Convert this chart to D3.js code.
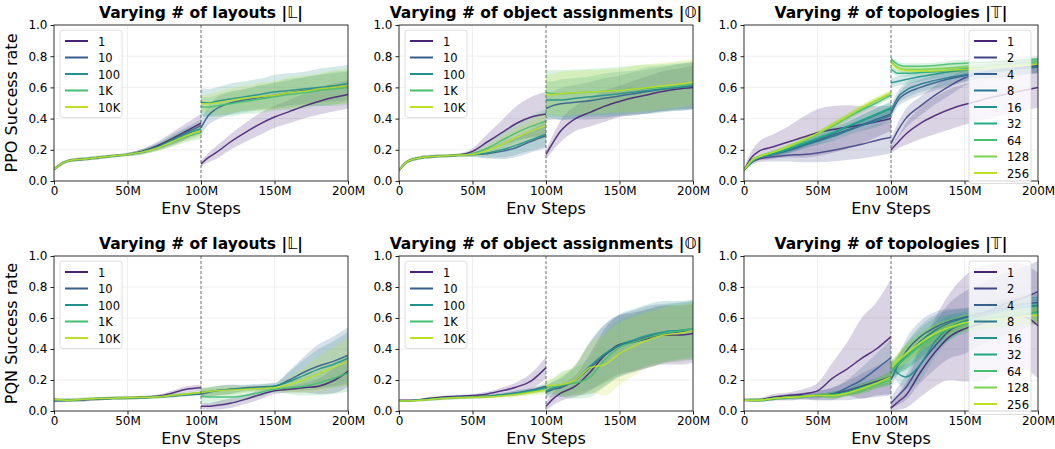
<!DOCTYPE html>
<html>
<head>
<meta charset="utf-8">
<script src="https://cdn.jsdelivr.net/npm/d3@7"></script>
<style>
  body { margin: 0; background: #fff; }
  text { font-family: "DejaVu Sans", sans-serif; fill: #000; }
</style>
</head>
<body>
<svg id="chart" width="1055" height="449"></svg>
<script>
// x grid in millions of env steps, before and after the switch at 100M
var stepsPre = [0, 5, 10, 20, 30, 40, 50, 60, 70, 80, 90, 100];
var stepsPost = [100, 105, 110, 120, 130, 140, 150, 160, 170, 180, 190, 200];
var sizeLabels = ["1", "10", "100", "1K", "10K"];
var topoLabels = ["1", "2", "4", "8", "16", "32", "64", "128", "256"];
var yTicks = [0, 0.2, 0.4, 0.6, 0.8, 1.0];
var xTicks = [0, 50, 100, 150, 200];
var xTickLabels = ["0", "50M", "100M", "150M", "200M"];

// --- PPO, layouts
var ppoLayoutPre = [
  [0.075,0.11,0.13,0.14,0.15,0.16,0.17,0.19,0.225,0.27,0.32,0.37],
  [0.075,0.11,0.13,0.14,0.15,0.16,0.17,0.19,0.22,0.265,0.31,0.355],
  [0.075,0.11,0.13,0.14,0.15,0.16,0.17,0.185,0.215,0.255,0.30,0.335],
  [0.075,0.11,0.13,0.14,0.15,0.16,0.17,0.185,0.21,0.25,0.285,0.31],
  [0.075,0.11,0.13,0.14,0.15,0.16,0.17,0.185,0.21,0.25,0.29,0.32]
];
var ppoLayoutPreSd = [
  [0.01,0.01,0.01,0.01,0.01,0.01,0.01,0.015,0.025,0.04,0.05,0.06],
  [0.01,0.01,0.01,0.01,0.01,0.01,0.01,0.015,0.02,0.03,0.035,0.04],
  [0.01,0.01,0.01,0.01,0.01,0.01,0.01,0.015,0.02,0.03,0.035,0.04],
  [0.01,0.01,0.01,0.01,0.01,0.01,0.01,0.015,0.02,0.03,0.035,0.04],
  [0.01,0.01,0.01,0.01,0.01,0.01,0.01,0.015,0.02,0.03,0.035,0.04]
];
var ppoLayoutPost = [
  [0.11,0.15,0.18,0.25,0.31,0.365,0.41,0.445,0.48,0.51,0.535,0.555],
  [0.34,0.42,0.46,0.50,0.52,0.535,0.55,0.565,0.58,0.59,0.60,0.61],
  [0.505,0.50,0.51,0.525,0.54,0.555,0.57,0.58,0.59,0.60,0.61,0.625],
  [0.475,0.475,0.48,0.495,0.51,0.525,0.54,0.555,0.565,0.58,0.59,0.60],
  [0.495,0.495,0.50,0.515,0.53,0.54,0.55,0.565,0.575,0.59,0.60,0.61]
];
var ppoLayoutPostSd = [
  [0.02,0.03,0.04,0.05,0.06,0.07,0.07,0.075,0.08,0.085,0.09,0.09],
  [0.05,0.06,0.07,0.07,0.07,0.075,0.08,0.08,0.085,0.09,0.09,0.09],
  [0.09,0.09,0.09,0.10,0.10,0.10,0.11,0.11,0.11,0.12,0.12,0.12],
  [0.06,0.06,0.07,0.08,0.08,0.09,0.09,0.10,0.10,0.10,0.11,0.11],
  [0.05,0.06,0.07,0.08,0.08,0.09,0.09,0.10,0.10,0.10,0.11,0.11]
];

// --- PPO, object assignments
var ppoObjectPre = [
  [0.07,0.12,0.14,0.155,0.16,0.165,0.19,0.25,0.31,0.37,0.41,0.43],
  [0.07,0.12,0.14,0.155,0.16,0.165,0.17,0.175,0.19,0.215,0.255,0.29],
  [0.07,0.12,0.14,0.155,0.16,0.165,0.17,0.18,0.20,0.23,0.265,0.30],
  [0.07,0.12,0.14,0.155,0.16,0.165,0.175,0.21,0.26,0.31,0.35,0.385],
  [0.07,0.12,0.14,0.155,0.16,0.165,0.17,0.195,0.235,0.28,0.32,0.355]
];
var ppoObjectPreSd = [
  [0.01,0.01,0.01,0.01,0.01,0.01,0.02,0.05,0.08,0.11,0.13,0.14],
  [0.01,0.01,0.01,0.01,0.01,0.01,0.015,0.03,0.05,0.06,0.07,0.08],
  [0.01,0.01,0.01,0.01,0.01,0.01,0.015,0.03,0.05,0.06,0.07,0.08],
  [0.01,0.01,0.01,0.01,0.01,0.01,0.015,0.03,0.05,0.06,0.07,0.08],
  [0.01,0.01,0.01,0.01,0.01,0.01,0.015,0.03,0.05,0.06,0.07,0.08]
];
var ppoObjectPost = [
  [0.17,0.25,0.32,0.40,0.44,0.48,0.51,0.535,0.555,0.575,0.59,0.60],
  [0.465,0.485,0.495,0.505,0.515,0.53,0.545,0.56,0.575,0.59,0.60,0.61],
  [0.52,0.52,0.52,0.53,0.54,0.55,0.56,0.57,0.58,0.59,0.60,0.61],
  [0.565,0.56,0.56,0.565,0.57,0.575,0.58,0.59,0.595,0.60,0.61,0.62],
  [0.555,0.555,0.56,0.565,0.57,0.575,0.58,0.59,0.60,0.61,0.62,0.635]
];
var ppoObjectPostSd = [
  [0.03,0.05,0.07,0.08,0.09,0.10,0.10,0.11,0.12,0.13,0.13,0.14],
  [0.08,0.09,0.10,0.11,0.12,0.13,0.13,0.14,0.14,0.14,0.15,0.15],
  [0.12,0.12,0.13,0.13,0.13,0.14,0.14,0.14,0.15,0.15,0.15,0.15],
  [0.15,0.15,0.15,0.15,0.15,0.15,0.15,0.15,0.15,0.15,0.15,0.15],
  [0.13,0.13,0.14,0.14,0.14,0.14,0.14,0.15,0.15,0.15,0.15,0.15]
];

// --- PPO, topologies
var ppoTopoPre = [
  [0.07,0.15,0.19,0.22,0.25,0.28,0.31,0.33,0.345,0.36,0.38,0.40],
  [0.07,0.12,0.14,0.155,0.165,0.17,0.18,0.195,0.215,0.235,0.26,0.28],
  [0.07,0.12,0.15,0.175,0.20,0.23,0.26,0.295,0.325,0.36,0.395,0.43],
  [0.07,0.12,0.15,0.17,0.195,0.225,0.255,0.285,0.32,0.355,0.385,0.42],
  [0.07,0.12,0.15,0.175,0.205,0.235,0.27,0.305,0.345,0.385,0.425,0.465],
  [0.07,0.12,0.15,0.175,0.205,0.24,0.275,0.31,0.35,0.39,0.43,0.47],
  [0.07,0.13,0.155,0.185,0.215,0.255,0.30,0.35,0.405,0.455,0.50,0.55],
  [0.07,0.13,0.155,0.185,0.22,0.26,0.305,0.355,0.41,0.465,0.515,0.56],
  [0.07,0.13,0.155,0.185,0.22,0.26,0.305,0.36,0.415,0.47,0.52,0.565]
];
var ppoTopoPreSd = [
  [0.01,0.04,0.06,0.08,0.10,0.13,0.15,0.15,0.14,0.12,0.10,0.08],
  [0.005,0.02,0.02,0.03,0.04,0.05,0.06,0.07,0.08,0.09,0.10,0.10],
  [0.005,0.01,0.01,0.015,0.02,0.02,0.025,0.03,0.03,0.035,0.04,0.04],
  [0.005,0.01,0.01,0.015,0.02,0.02,0.025,0.03,0.03,0.035,0.04,0.04],
  [0.005,0.01,0.01,0.015,0.02,0.02,0.025,0.03,0.03,0.035,0.04,0.04],
  [0.005,0.01,0.01,0.015,0.02,0.02,0.025,0.03,0.03,0.035,0.04,0.04],
  [0.005,0.01,0.01,0.01,0.015,0.015,0.015,0.02,0.02,0.02,0.02,0.02],
  [0.005,0.01,0.01,0.01,0.015,0.015,0.015,0.02,0.02,0.02,0.02,0.02],
  [0.005,0.01,0.01,0.01,0.015,0.015,0.015,0.02,0.02,0.02,0.02,0.02]
];
var ppoTopoPost = [
  [0.20,0.25,0.30,0.37,0.42,0.46,0.49,0.515,0.54,0.56,0.58,0.60],
  [0.24,0.33,0.40,0.48,0.55,0.61,0.66,0.69,0.71,0.72,0.73,0.74],
  [0.43,0.52,0.56,0.60,0.63,0.655,0.675,0.69,0.70,0.71,0.72,0.73],
  [0.45,0.54,0.58,0.62,0.645,0.665,0.68,0.695,0.705,0.715,0.725,0.735],
  [0.63,0.64,0.65,0.67,0.685,0.70,0.71,0.72,0.73,0.74,0.75,0.76],
  [0.72,0.69,0.69,0.695,0.70,0.71,0.72,0.73,0.74,0.75,0.755,0.76],
  [0.785,0.745,0.735,0.735,0.74,0.75,0.755,0.76,0.765,0.77,0.775,0.78],
  [0.77,0.725,0.715,0.715,0.72,0.725,0.73,0.735,0.74,0.745,0.75,0.76],
  [0.76,0.72,0.71,0.705,0.705,0.71,0.715,0.72,0.73,0.735,0.74,0.75]
];
var ppoTopoPostSd = [
  [0.02,0.04,0.07,0.10,0.12,0.13,0.13,0.13,0.13,0.13,0.13,0.13],
  [0.03,0.05,0.06,0.06,0.06,0.06,0.05,0.05,0.05,0.05,0.05,0.05],
  [0.03,0.04,0.05,0.05,0.05,0.05,0.04,0.04,0.04,0.04,0.04,0.04],
  [0.03,0.04,0.05,0.05,0.05,0.05,0.04,0.04,0.04,0.04,0.04,0.04],
  [0.03,0.03,0.03,0.03,0.03,0.03,0.03,0.03,0.03,0.03,0.03,0.03],
  [0.02,0.02,0.02,0.02,0.02,0.02,0.02,0.02,0.02,0.02,0.02,0.02],
  [0.02,0.02,0.02,0.02,0.02,0.02,0.02,0.02,0.02,0.02,0.02,0.02],
  [0.02,0.02,0.02,0.02,0.02,0.02,0.02,0.02,0.02,0.02,0.02,0.02],
  [0.02,0.02,0.02,0.02,0.02,0.02,0.02,0.02,0.02,0.02,0.02,0.02]
];

// --- PQN, layouts
var pqnLayoutPre = [
  [0.075,0.072,0.07,0.072,0.078,0.082,0.085,0.088,0.095,0.115,0.14,0.15],
  [0.065,0.066,0.068,0.072,0.078,0.082,0.085,0.087,0.09,0.097,0.105,0.11],
  [0.07,0.07,0.07,0.075,0.08,0.083,0.085,0.087,0.09,0.097,0.105,0.115],
  [0.072,0.07,0.07,0.075,0.08,0.082,0.085,0.087,0.09,0.10,0.11,0.12],
  [0.075,0.072,0.07,0.075,0.08,0.083,0.086,0.088,0.09,0.10,0.11,0.12]
];
var pqnLayoutPreSd = [
  [0.01,0.01,0.01,0.01,0.01,0.01,0.01,0.01,0.01,0.015,0.02,0.02],
  [0.01,0.01,0.01,0.01,0.01,0.01,0.01,0.01,0.01,0.01,0.01,0.01],
  [0.01,0.01,0.01,0.01,0.01,0.01,0.01,0.01,0.01,0.01,0.01,0.01],
  [0.01,0.01,0.01,0.01,0.01,0.01,0.01,0.01,0.01,0.01,0.01,0.01],
  [0.01,0.01,0.01,0.01,0.01,0.01,0.01,0.01,0.01,0.01,0.01,0.01]
];
var pqnLayoutPost = [
  [0.03,0.03,0.035,0.05,0.075,0.105,0.13,0.14,0.15,0.16,0.195,0.255],
  [0.11,0.12,0.13,0.14,0.15,0.155,0.16,0.20,0.25,0.29,0.32,0.36],
  [0.12,0.125,0.13,0.14,0.145,0.15,0.16,0.19,0.23,0.27,0.30,0.34],
  [0.10,0.09,0.09,0.09,0.10,0.12,0.14,0.15,0.16,0.18,0.21,0.245],
  [0.12,0.125,0.13,0.135,0.14,0.145,0.15,0.17,0.20,0.24,0.28,0.32]
];
var pqnLayoutPostSd = [
  [0.02,0.02,0.025,0.03,0.03,0.03,0.02,0.02,0.03,0.05,0.08,0.10],
  [0.03,0.03,0.03,0.03,0.02,0.02,0.02,0.06,0.10,0.14,0.16,0.18],
  [0.03,0.03,0.03,0.03,0.02,0.02,0.02,0.06,0.10,0.13,0.15,0.17],
  [0.04,0.05,0.05,0.04,0.03,0.03,0.02,0.04,0.06,0.08,0.10,0.12],
  [0.03,0.03,0.03,0.03,0.02,0.02,0.02,0.05,0.08,0.11,0.13,0.15]
];

// --- PQN, object assignments
var pqnObjectPre = [
  [0.07,0.07,0.07,0.08,0.09,0.095,0.10,0.11,0.13,0.155,0.195,0.28],
  [0.065,0.065,0.068,0.075,0.082,0.088,0.09,0.095,0.105,0.118,0.135,0.16],
  [0.065,0.065,0.068,0.075,0.082,0.088,0.09,0.095,0.105,0.115,0.13,0.15],
  [0.065,0.065,0.068,0.075,0.082,0.087,0.09,0.093,0.10,0.11,0.125,0.14],
  [0.065,0.065,0.066,0.073,0.08,0.085,0.088,0.09,0.097,0.107,0.12,0.135]
];
var pqnObjectPreSd = [
  [0.005,0.005,0.005,0.01,0.01,0.01,0.01,0.015,0.02,0.03,0.05,0.07],
  [0.005,0.005,0.005,0.01,0.01,0.01,0.01,0.01,0.01,0.015,0.015,0.02],
  [0.005,0.005,0.005,0.01,0.01,0.01,0.01,0.01,0.01,0.015,0.015,0.02],
  [0.005,0.005,0.005,0.01,0.01,0.01,0.01,0.01,0.01,0.015,0.015,0.02],
  [0.005,0.005,0.005,0.01,0.01,0.01,0.01,0.01,0.01,0.015,0.02,0.03]
];
var pqnObjectPost = [
  [0.03,0.08,0.115,0.16,0.25,0.36,0.43,0.445,0.47,0.49,0.49,0.50],
  [0.12,0.14,0.15,0.20,0.28,0.36,0.42,0.45,0.48,0.50,0.51,0.52],
  [0.13,0.15,0.16,0.20,0.29,0.37,0.425,0.46,0.49,0.51,0.52,0.53],
  [0.15,0.16,0.17,0.18,0.22,0.33,0.41,0.445,0.475,0.50,0.515,0.53],
  [0.16,0.165,0.17,0.20,0.28,0.30,0.37,0.42,0.46,0.49,0.50,0.52]
];
var pqnObjectPostSd = [
  [0.03,0.04,0.05,0.07,0.12,0.17,0.19,0.19,0.19,0.19,0.19,0.19],
  [0.04,0.05,0.06,0.10,0.17,0.20,0.20,0.20,0.20,0.19,0.19,0.19],
  [0.04,0.04,0.06,0.09,0.15,0.19,0.20,0.20,0.20,0.20,0.19,0.19],
  [0.04,0.05,0.08,0.10,0.13,0.17,0.18,0.18,0.18,0.18,0.18,0.18],
  [0.04,0.05,0.07,0.10,0.16,0.20,0.20,0.19,0.18,0.18,0.18,0.18]
];

// --- PQN, topologies
var pqnTopoPre = [
  [0.075,0.072,0.072,0.09,0.10,0.11,0.13,0.21,0.27,0.34,0.40,0.48],
  [0.07,0.07,0.07,0.08,0.09,0.095,0.10,0.11,0.13,0.16,0.19,0.22],
  [0.07,0.07,0.07,0.08,0.09,0.095,0.10,0.11,0.15,0.20,0.27,0.345],
  [0.07,0.07,0.07,0.08,0.09,0.095,0.10,0.105,0.12,0.15,0.18,0.22],
  [0.07,0.07,0.07,0.08,0.088,0.093,0.10,0.105,0.12,0.15,0.18,0.215],
  [0.07,0.07,0.07,0.08,0.088,0.093,0.10,0.105,0.12,0.15,0.18,0.21],
  [0.07,0.07,0.07,0.08,0.088,0.093,0.10,0.10,0.115,0.14,0.17,0.205],
  [0.07,0.07,0.07,0.08,0.088,0.093,0.10,0.10,0.115,0.14,0.175,0.21],
  [0.07,0.07,0.07,0.08,0.088,0.093,0.10,0.10,0.115,0.145,0.18,0.22]
];
var pqnTopoPreSd = [
  [0.005,0.005,0.01,0.02,0.02,0.03,0.05,0.10,0.17,0.26,0.30,0.37],
  [0.005,0.01,0.01,0.01,0.02,0.02,0.03,0.04,0.06,0.08,0.10,0.12],
  [0.005,0.01,0.01,0.01,0.02,0.02,0.03,0.04,0.05,0.08,0.10,0.12],
  [0.005,0.01,0.01,0.01,0.01,0.01,0.01,0.02,0.02,0.03,0.03,0.04],
  [0.005,0.01,0.01,0.01,0.01,0.01,0.01,0.02,0.02,0.03,0.03,0.04],
  [0.005,0.01,0.01,0.01,0.01,0.01,0.01,0.02,0.02,0.03,0.03,0.04],
  [0.005,0.01,0.01,0.01,0.01,0.01,0.01,0.02,0.02,0.03,0.03,0.04],
  [0.005,0.01,0.01,0.01,0.01,0.01,0.01,0.02,0.02,0.03,0.03,0.04],
  [0.005,0.01,0.01,0.01,0.01,0.01,0.01,0.02,0.02,0.03,0.03,0.04]
];
var pqnTopoPost = [
  [0.02,0.06,0.10,0.25,0.38,0.48,0.53,0.56,0.59,0.61,0.61,0.55],
  [0.05,0.10,0.15,0.30,0.42,0.52,0.57,0.62,0.66,0.70,0.73,0.77],
  [0.20,0.30,0.38,0.48,0.54,0.58,0.605,0.63,0.65,0.67,0.69,0.70],
  [0.25,0.30,0.35,0.45,0.52,0.57,0.60,0.62,0.64,0.66,0.67,0.68],
  [0.30,0.24,0.22,0.30,0.45,0.54,0.58,0.61,0.63,0.65,0.67,0.68],
  [0.27,0.31,0.35,0.43,0.50,0.54,0.57,0.59,0.60,0.61,0.62,0.64],
  [0.25,0.30,0.34,0.42,0.49,0.53,0.56,0.58,0.59,0.60,0.61,0.63],
  [0.27,0.32,0.36,0.44,0.50,0.54,0.57,0.58,0.59,0.60,0.61,0.62],
  [0.28,0.33,0.37,0.44,0.50,0.54,0.57,0.58,0.59,0.60,0.61,0.62]
];
var pqnTopoPostSd = [
  [0.02,0.05,0.08,0.16,0.22,0.28,0.34,0.37,0.36,0.35,0.34,0.34],
  [0.04,0.06,0.08,0.12,0.15,0.18,0.20,0.20,0.20,0.20,0.20,0.20],
  [0.05,0.06,0.08,0.10,0.10,0.08,0.06,0.06,0.06,0.06,0.06,0.06],
  [0.05,0.06,0.08,0.10,0.10,0.08,0.06,0.06,0.06,0.06,0.06,0.06],
  [0.05,0.06,0.08,0.10,0.10,0.08,0.06,0.06,0.06,0.06,0.06,0.06],
  [0.05,0.06,0.08,0.10,0.10,0.08,0.06,0.06,0.06,0.06,0.06,0.06],
  [0.05,0.06,0.08,0.08,0.08,0.07,0.06,0.06,0.06,0.06,0.06,0.06],
  [0.04,0.05,0.06,0.06,0.06,0.05,0.05,0.05,0.05,0.05,0.05,0.05],
  [0.04,0.05,0.06,0.06,0.06,0.05,0.05,0.05,0.05,0.05,0.05,0.05]
];

var panels = [
  { row: 0, col: 0, title: "Varying # of layouts ", sym: "\u{1D543}", names: sizeLabels,
    pre: ppoLayoutPre, preSd: ppoLayoutPreSd, post: ppoLayoutPost, postSd: ppoLayoutPostSd, legend: "left" },
  { row: 0, col: 1, title: "Varying # of object assignments ", sym: "\u{1D546}", names: sizeLabels,
    pre: ppoObjectPre, preSd: ppoObjectPreSd, post: ppoObjectPost, postSd: ppoObjectPostSd, legend: "left" },
  { row: 0, col: 2, title: "Varying # of topologies ", sym: "\u{1D54B}", names: topoLabels,
    pre: ppoTopoPre, preSd: ppoTopoPreSd, post: ppoTopoPost, postSd: ppoTopoPostSd, legend: "right" },
  { row: 1, col: 0, title: "Varying # of layouts ", sym: "\u{1D543}", names: sizeLabels,
    pre: pqnLayoutPre, preSd: pqnLayoutPreSd, post: pqnLayoutPost, postSd: pqnLayoutPostSd, legend: "left" },
  { row: 1, col: 1, title: "Varying # of object assignments ", sym: "\u{1D546}", names: sizeLabels,
    pre: pqnObjectPre, preSd: pqnObjectPreSd, post: pqnObjectPost, postSd: pqnObjectPostSd, legend: "left" },
  { row: 1, col: 2, title: "Varying # of topologies ", sym: "\u{1D54B}", names: topoLabels,
    pre: pqnTopoPre, preSd: pqnTopoPreSd, post: pqnTopoPost, postSd: pqnTopoPostSd, legend: "right" }
];
var rowLabels = ["PPO Success rate", "PQN Success rate"];

var colLeft = [54, 399, 744];
var rowTop = [25, 256];
var plotW = 294, plotH = [156, 155];

var svg = d3.select("#chart");

panels.forEach(function(p, pi) {
  var x0 = colLeft[p.col], y0 = rowTop[p.row], h = plotH[p.row];
  var g = svg.append("g").attr("transform", "translate(" + x0 + "," + y0 + ")");
  var x = d3.scaleLinear().domain([0, 200]).range([0, plotW]);
  var y = d3.scaleLinear().domain([0, 1]).range([h, 0]);
  var n = p.names.length;
  var color = function(i) { return d3.interpolateViridis(0.1 + 0.8 * i / (n - 1)); };

  g.append("clipPath").attr("id", "clip" + pi)
    .append("rect").attr("width", plotW).attr("height", h);

  // grid
  g.selectAll(".gy").data(yTicks).enter().append("line")
    .attr("x1", 0).attr("x2", plotW)
    .attr("y1", function(d) { return y(d); }).attr("y2", function(d) { return y(d); })
    .style("stroke", "#ebebeb").style("stroke-width", 0.8);
  g.selectAll(".gx").data(xTicks).enter().append("line")
    .attr("y1", 0).attr("y2", h)
    .attr("x1", function(d) { return x(d); }).attr("x2", function(d) { return x(d); })
    .style("stroke", "#ebebeb").style("stroke-width", 0.8);

  var plot = g.append("g").attr("clip-path", "url(#clip" + pi + ")");
  var area = d3.area().curve(d3.curveMonotoneX)
    .x(function(d) { return x(d.s); })
    .y0(function(d) { return y(d.m - d.sd); })
    .y1(function(d) { return y(d.m + d.sd); });
  var line = d3.line().curve(d3.curveMonotoneX)
    .x(function(d) { return x(d.s); })
    .y(function(d) { return y(d.m); });

  function seg(steps, means, sds) {
    return steps.map(function(s, k) { return { s: s, m: means[k], sd: sds[k] }; });
  }

  var series = [];
  for (var i = 0; i < n; i++) {
    series.push({ i: i, part: seg(stepsPre, p.pre[i], p.preSd[i]) });
    series.push({ i: i, part: seg(stepsPost, p.post[i], p.postSd[i]) });
  }

  plot.selectAll(".band").data(series).enter().append("path")
    .attr("d", function(d) { return area(d.part); })
    .style("fill", function(d) { return color(d.i); })
    .style("fill-opacity", 0.2)
    .style("stroke", "none");

  plot.selectAll(".mean").data(series).enter().append("path")
    .attr("d", function(d) { return line(d.part); })
    .style("fill", "none")
    .style("stroke", function(d) { return color(d.i); })
    .style("stroke-opacity", 0.9)
    .style("stroke-width", 1.5);

  // switch marker at 100M
  g.append("line")
    .attr("x1", x(100)).attr("x2", x(100)).attr("y1", 0).attr("y2", h)
    .style("stroke", "#555").style("stroke-width", 0.8).style("stroke-dasharray", "3,2");

  // frame
  g.append("rect").attr("width", plotW).attr("height", h)
    .style("fill", "none").style("stroke", "#222").style("stroke-width", 0.9);

  // axes
  var yAxis = d3.axisLeft(y).tickValues(yTicks).tickFormat(d3.format(".1f")).tickSize(3.5).tickPadding(3);
  var xAxis = d3.axisBottom(x).tickValues(xTicks)
    .tickFormat(function(d, k) { return xTickLabels[k]; }).tickSize(3.5).tickPadding(2);
  var ya = g.append("g").call(yAxis);
  var xa = g.append("g").attr("transform", "translate(0," + h + ")").call(xAxis);
  [ya, xa].forEach(function(a) {
    a.select(".domain").remove();
    a.selectAll("line").style("stroke", "#222");
    a.selectAll("text").style("font-size", "12px").style("fill", "#000")
      .style("font-family", "'DejaVu Sans', sans-serif");
  });

  g.append("text").attr("x", plotW / 2).attr("y", h + 33)
    .attr("text-anchor", "middle").style("font-size", "16px").text("Env Steps");

  var t = g.append("text").attr("x", plotW / 2).attr("y", -7)
    .attr("text-anchor", "middle").style("font-size", "15.5px").style("font-weight", "bold");
  t.append("tspan").text(p.title + "|");
  t.append("tspan").style("font-weight", "normal").text(p.sym);
  t.append("tspan").text("|");

  if (p.col === 0) {
    g.append("text").attr("transform", "translate(" + (-37) + "," + (h / 2) + ") rotate(-90)")
      .attr("text-anchor", "middle").style("font-size", "16px").text(rowLabels[p.row]);
  }

  // legend
  var lx = p.legend === "left" ? 6 : plotW - 69;
  var lw = 62;
  var lh = 5 + n * 16.5;
  var lg = g.append("g").attr("transform", "translate(" + lx + ",5)");
  lg.append("rect").attr("width", lw).attr("height", lh).attr("rx", 3)
    .style("fill", "#fff").style("fill-opacity", 0.8).style("stroke", "#d6d6d6").style("stroke-width", 0.8);
  var items = lg.selectAll(".li").data(p.names).enter().append("g")
    .attr("transform", function(d, k) { return "translate(0," + (11 + k * 16.5) + ")"; });
  items.append("line").attr("x1", 5).attr("x2", 28)
    .style("stroke", function(d, k) { return color(k); }).style("stroke-width", 2);
  items.append("text").attr("x", 38).attr("y", 4.5).style("font-size", "11.5px")
    .text(function(d) { return d; });
});
</script>
</body>
</html>
